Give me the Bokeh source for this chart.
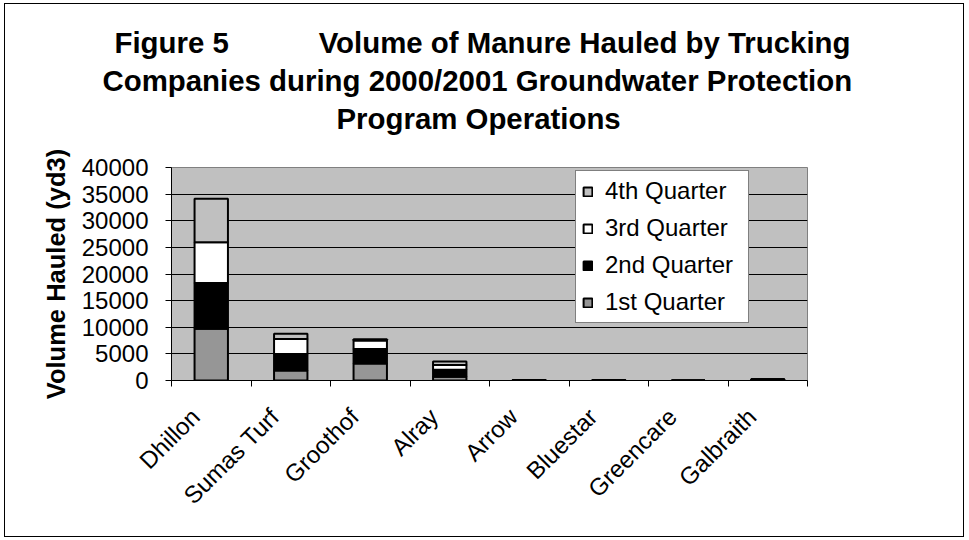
import math
from bokeh.plotting import figure
from bokeh.models import (Range1d, FixedTicker, Legend, LegendItem, Title,
                          ColumnDataSource, NumeralTickFormatter)
from bokeh.embed import file_html
from bokeh.resources import INLINE

# ---- data ----
companies = ["Dhillon", "Sumas Turf", "Groothof", "Alray", "Arrow",
             "Bluestar", "Greencare", "Galbraith"]
q1 = [9700, 1900, 3200, 700, 100, 100, 0, 100]
q2 = [8600, 3100, 2700, 1300, 0, 0, 0, 150]
q3 = [7650, 2800, 1600, 900, 0, 0, 0, 0]
q4 = [8200, 1000, 250, 650, 0, 0, 0, 0]
series_names = ["1st Quarter", "2nd Quarter", "3rd Quarter", "4th Quarter"]
y_ticks = [0, 5000, 10000, 15000, 20000, 25000, 30000, 35000, 40000]
NB = "\u00a0"
title_lines = ["Figure 5" + NB * 11 + "Volume of Manure Hauled by Trucking",
               "Companies during 2000/2001 Groundwater Protection",
               "Program Operations"]
y_label = "Volume Hauled (yd3)"

colors = ["#969696", "#000000", "#ffffff", "#c0c0c0"]
FONT = "Liberation Sans"

n = len(companies)
xs = [i + 0.5 for i in range(n)]
source = ColumnDataSource(dict(x=xs, q1=q1, q2=q2, q3=q3, q4=q4))

FW, FH = 636, 213
YMAX = 40000
p = figure(frame_width=FW, frame_height=FH,
           x_range=Range1d(0, n), y_range=Range1d(0, YMAX),
           output_backend="svg", toolbar_location=None,
           min_border_left=166, min_border_right=156,
           min_border_top=163, min_border_bottom=156,
           background_fill_color="#c0c0c0", border_fill_color="white",
           styles={"border": "1px solid black", "margin": "3px 0px 0px 4px"})
p.outline_line_color = "#808080"

rs = p.vbar_stack(["q1", "q2", "q3", "q4"], x="x", width=0.42, source=source,
                  fill_color=colors, line_color="black", line_width=2)

# axes
yt = FixedTicker(ticks=y_ticks)
p.yaxis.ticker = yt
p.ygrid.ticker = yt
p.yaxis.formatter = NumeralTickFormatter(format="0")
p.ygrid.grid_line_color = "black"
p.xgrid.grid_line_color = None
for ax in (p.yaxis[0], p.xaxis[0]):
    ax.axis_line_color = "black"
    ax.major_label_text_font = FONT
    ax.major_label_text_font_size = "24px"
    ax.major_label_text_color = "black"
p.yaxis.major_tick_in = 0
p.yaxis.major_tick_out = 6
p.yaxis.major_tick_line_color = "black"
p.yaxis.major_label_standoff = 17
p.yaxis.axis_label = y_label
p.yaxis.axis_label_text_font = FONT
p.yaxis.axis_label_text_font_style = "bold"
p.yaxis.axis_label_text_font_size = "25.5px"
p.yaxis.axis_label_text_color = "black"
p.yaxis.axis_label_standoff = 9

# category labels sit slightly left of the bar centre, as in the original
label_pos = [x - 0.2 for x in xs]
xt = FixedTicker(ticks=label_pos, minor_ticks=list(range(n + 1)))
p.xaxis.ticker = xt
p.xaxis.major_label_overrides = {x: c for x, c in zip(label_pos, companies)}
p.xaxis.major_tick_in = 0
p.xaxis.major_tick_out = 0
p.xaxis.minor_tick_in = 0
p.xaxis.minor_tick_out = 6
p.xaxis.minor_tick_line_color = "black"
p.xaxis.major_label_orientation = math.pi / 4
p.xaxis.major_label_standoff = 26

# legend
items = [LegendItem(label=series_names[i], renderers=[rs[i]]) for i in (3, 2, 1, 0)]
legend = Legend(items=items, location=(404, 57),
                border_line_color="black", border_line_width=1,
                background_fill_color="white", background_fill_alpha=1,
                label_text_font=FONT, label_text_font_size="24px",
                label_text_color="black",
                glyph_width=11, glyph_height=11, label_height=24,
                label_width=137,
                spacing=9, padding=6, label_standoff=12, margin=0)
p.add_layout(legend, "center")

# title: three bold lines, nearest-to-plot panel added first
tstyle = dict(text_font=FONT, text_font_style="bold", text_font_size="29.4px",
              text_color="black", align="left")
p.add_layout(Title(text=NB, text_font_size="1px", standoff=29), "above")
p.add_layout(Title(text=title_lines[2], standoff=2, offset=165, **tstyle), "above")
p.add_layout(Title(text=title_lines[1], standoff=3, offset=-69, **tstyle), "above")
p.add_layout(Title(text=title_lines[0], standoff=4, offset=-57, **tstyle), "above")

open("out.html", "w").write(file_html(p, INLINE))
